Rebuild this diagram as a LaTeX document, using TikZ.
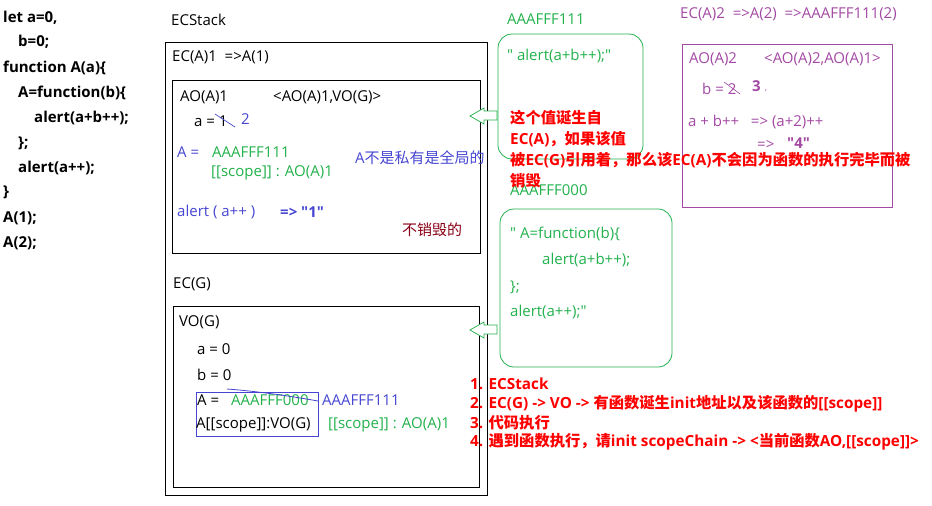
\documentclass[tikz,border=0pt]{standalone}
\usepackage{fontspec}
\newfontfamily\latf{Open Sans}
\newfontfamily\cjk{Noto Sans CJK SC}
\definecolor{grn}{RGB}{34,177,76}
\definecolor{blu}{RGB}{70,70,210}
\definecolor{pur}{RGB}{163,73,164}
\definecolor{drd}{RGB}{136,0,21}
\definecolor{rd}{RGB}{255,0,0}
\begin{document}
\begin{tikzpicture}[x=1pt,y=-1pt,
  txt/.style={anchor=west,inner sep=0pt,font=\latf\fontsize{15}{17}\selectfont},
  btxt/.style={txt,font=\latf\fontsize{15}{17}\bfseries\selectfont},
  code/.style={anchor=west,inner sep=0pt,font=\latf\fontsize{15}{17}\bfseries\selectfont},
  note/.style={anchor=west,inner sep=0pt,text=rd,font=\latf\fontsize{15.3}{17}\bfseries\selectfont},
  frame/.style={draw=black,line width=0.8pt},
  gbox/.style={draw=grn,line width=0.8pt,rounded corners=14pt},
  harrow/.style={draw=grn,line width=0.7pt,fill=white}]
\useasboundingbox (0,0) rectangle (932,506);
% code
\node[code] (c1) at (3,18) {let a=0,};
\node[code] (c2) at (18,42) {b=0;};
\node[code] (c3) at (3,68) {function A(a)\{};
\node[code] (c4) at (18,93) {A=function(b)\{};
\node[code] (c5) at (34,118) {alert(a+b++);};
\node[code] (c6) at (18,143) {\};};
\node[code] (c7) at (18,168) {alert(a++);};
\node[code] (c8) at (3,192) {\}};
\node[code] (c9) at (3,218) {A(1);};
\node[code] (c10) at (3,243) {A(2);};
% ECStack
\node[txt] (ecs) at (171,20) {ECStack};
\draw[frame] (165,42) rectangle (487,495);
\node[txt] (eca1) at (172,57) {EC(A)1\ \ =>A(1)};
\draw[frame] (172,80) rectangle (480,253);
\node[txt] (ao1) at (180,97) {AO(A)1};
\node[txt] (ch1) at (273,97) {<AO(A)1,VO(G)>};
\node[txt] (a1) at (194,121) {a = 1};
\draw[blu,line width=0.7pt] (215,114) -- (235,127);
\node[txt,text=blu] (a2) at (241,119) {2};
\node[txt,text=blu] (aeq) at (177,152) {A =};
\node[txt,text=grn] (a111) at (212,152) {AAAFFF111};
\node[txt,text=grn] (asc) at (211,173) {[[scope]] : AO(A)1};
\node[txt,text=blu] (glob) at (355,158) {A{\cjk 不是私有是全局的}};
\node[txt,text=blu] (al1) at (177,212) {alert ( a++ )};
\node[btxt,text=blu] (r1) at (280,212) {=> "1"};
\node[txt,text=drd] (nd) at (402,230) {\cjk 不销毁的};
% EC(G)
\node[txt] (ecg) at (173,284) {EC(G)};
\draw[frame] (173,306) rectangle (479,487);
\node[txt] (vog) at (179,322) {VO(G)};
\node[txt] (ga) at (197,349) {a = 0};
\node[txt] (gb) at (197,375) {b = 0};
\draw[blu,line width=0.8pt] (196,392) rectangle (318,436);
\node[txt] (gA) at (197,400) {A =};
\node[txt,text=grn] (g000) at (231,400) {AAAFFF000};
\draw[blu,line width=0.8pt] (227,389) .. controls (255,391) and (290,396) .. (318,401);
\node[txt,text=blu] (g111) at (322,400) {AAAFFF111};
\node[txt] (gsc) at (196,425) {A[[scope]]:VO(G)};
\node[txt,text=grn] (gsc2) at (328,425) {[[scope]] : AO(A)1};
% green heap boxes
\node[txt,text=grn] (h111) at (507,19) {AAAFFF111};
\draw[gbox] (498,34) rectangle (643,159);
\node[txt,text=grn] (h111c) at (507,56) {" alert(a+b++);"};
\node[txt,text=grn] (h000) at (510,190) {AAAFFF000};
\draw[gbox] (500,209) rectangle (672,367);
\node[txt,text=grn] (f1) at (510,234) {" A=function(b)\{};
\node[txt,text=grn] (f2) at (542,260) {alert(a+b++);};
\node[txt,text=grn] (f3) at (510,287) {\};};
\node[txt,text=grn] (f4) at (510,312) {alert(a++);"};
% hollow arrows
\draw[harrow] (497,111) -- (484,111) -- (484,108) -- (470,116) -- (484,124) -- (484,120) -- (497,120) -- cycle;
\draw[harrow] (497,325) -- (484,325) -- (484,322) -- (470,330) -- (484,338) -- (484,334) -- (497,334) -- cycle;
% purple
\node[txt,text=pur] (eca2) at (680,14) {EC(A)2\ \ =>A(2)\ \ =>AAAFFF111(2)};
\draw[pur,line width=0.8pt] (682,44) rectangle (892,207);
\node[txt,text=pur] (ao2) at (689,59) {AO(A)2};
\node[txt,text=pur] (ch2) at (764,59) {<AO(A)2,AO(A)1>};
\node[txt,text=pur] (pb) at (702,89) {b = 2};
\draw[pur,line width=0.6pt] (724,82) -- (740,94);
\node[btxt,text=pur] (p3) at (752,86) {3};
\node[txt,text=pur,font=\latf\fontsize{8}{9}\selectfont] (pc) at (765,91) {,};
\node[txt,text=pur] (pab) at (688,122) {a + b++\ \ \ => (a+2)++};
\node[txt,text=pur] (p4a) at (757,145) {=>};
\node[btxt,text=pur] (p4) at (787,143) {"4"};
% red notes
\node[note] (n1) at (510,118) {\cjk 这个值诞生自};
\node[note] (n2) at (510,139) {EC(A){\cjk ，如果该值}};
\node[note] (n3) at (510,160) {{\cjk 被}EC(G){\cjk 引用着，那么该}EC(A){\cjk 不会因为函数的执行完毕而被}};
\node[note] (n4) at (510,181) {\cjk 销毁};
\node[note] (s1) at (470,384) {1. ECStack};
\node[note] (s2) at (470,404) {2. EC(G) -> VO -> {\cjk 有函数诞生}init{\cjk 地址以及该函数的}[[scope]]};
\node[note] (s3) at (470,423) {3. {\cjk 代码执行}};
\node[note] (s4) at (470,442) {4. {\cjk 遇到函数执行，请}init scopeChain -> <{\cjk 当前函数}AO,[[scope]]>};
\end{tikzpicture}
\end{document}
